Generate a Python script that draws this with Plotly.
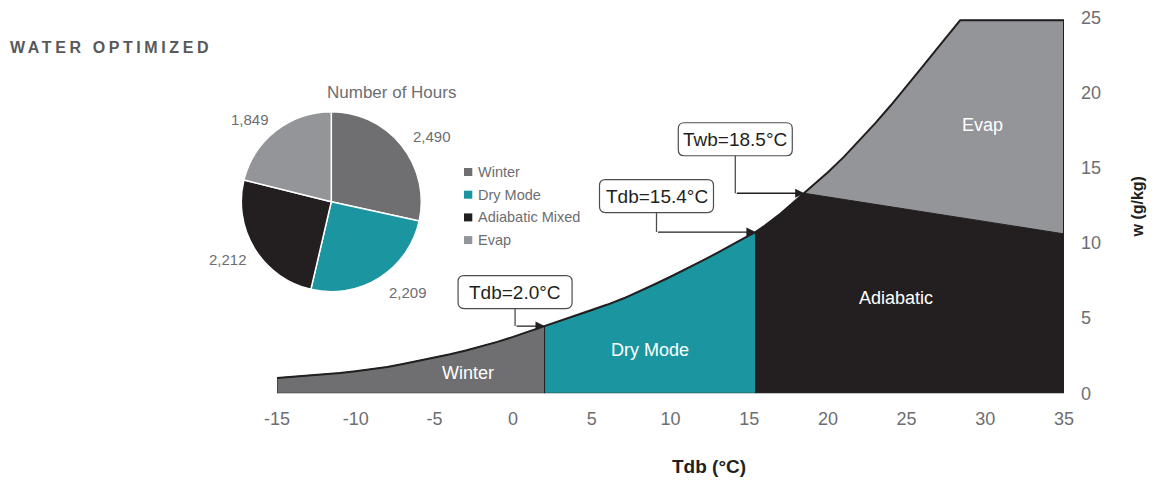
import numpy as np
import plotly.graph_objects as go

# ---------------- data ----------------
# saturation curve (Tdb in degC, w in g/kg)
tdb_sat = [-15, -14, -13, -12, -11, -10, -9, -8, -7, -6, -5, -4, -3, -2, -1, 0, 1, 2, 3, 4, 5, 6, 7, 8, 9,
           10, 11, 12, 13, 14, 15, 15.4, 16, 17, 18, 18.5, 19, 20, 21, 22, 23, 24, 25, 26, 27, 28, 28.4]
w_sat = [1.02, 1.1, 1.18, 1.26, 1.35, 1.47, 1.6, 1.75, 1.95, 2.15, 2.37, 2.6, 2.85, 3.12, 3.42, 3.75, 4.1,
         4.47, 4.8, 5.15, 5.5, 5.9, 6.3, 6.75, 7.25, 7.75, 8.25, 8.8, 9.35, 9.95, 10.5, 10.72, 11.15, 11.95,
         12.85, 13.3, 13.75, 14.7, 15.7, 16.8, 17.95, 19.15, 20.4, 21.7, 23.0, 24.3, 24.8]
t_max = 35
w_top = 24.8
winter_limit = 2.0      # Tdb=2.0
dry_limit = 15.4        # Tdb=15.4
twb_limit = 18.5        # Twb=18.5
evap_line_end_w = 10.6  # w of Evap lower boundary at t_max

mode_names = ["Winter", "Dry Mode", "Adiabatic Mixed", "Evap"]
region_names = ["Winter", "Dry Mode", "Adiabatic", "Evap"]
hours = [2490, 2209, 2212, 1849]
colors = ["#6f6f71", "#1b96a0", "#231f20", "#939598"]

callouts = ["Tdb=2.0°C", "Tdb=15.4°C", "Twb=18.5°C"]
callout_t = [winter_limit, dry_limit, twb_limit]

x_ticks = [-15, -10, -5, 0, 5, 10, 15, 20, 25, 30, 35]
y_ticks = [0, 5, 10, 15, 20, 25]

# ---------------- layout geometry ----------------
# the page body has an 8px margin, so figure pixels = page pixels - 8
OFF = 8
W, H = 1155 - OFF, 480 - OFF
PX_L, PX_R, PX_T, PX_B = 277 - OFF, 1064 - OFF, 17.3 - OFF, 393.3 - OFF
X_RANGE = [-15, 35]
Y_RANGE = [0, 25]
FONT = "Liberation Sans, Arial, Helvetica, sans-serif"
GREY = "#6d6e71"
DARK = "#231f20"


def px_paper(px, py):
    """page pixel -> paper fraction"""
    return (px - OFF) / W, 1 - (py - OFF) / H


def dx(pix):
    return pix * (X_RANGE[1] - X_RANGE[0]) / (PX_R - PX_L)


def dy(pix):
    return pix * (Y_RANGE[1] - Y_RANGE[0]) / (PX_B - PX_T)


T = np.array(tdb_sat, dtype=float)
Wv = np.array(w_sat, dtype=float)


def seg(t0, t1):
    m = (T >= t0 - 1e-9) & (T <= t1 + 1e-9)
    return list(T[m]), list(Wv[m])


w_at = lambda t: float(np.interp(t, T, Wv))

polys = []
# Winter
xs, ys = seg(-15, winter_limit)
polys.append((xs + [winter_limit, -15, xs[0]], ys + [0, 0, ys[0]]))
# Dry mode
xs, ys = seg(winter_limit, dry_limit)
polys.append((xs + [dry_limit, winter_limit, xs[0]], ys + [0, 0, ys[0]]))
# Adiabatic
xs, ys = seg(dry_limit, twb_limit)
polys.append((xs + [t_max, t_max, dry_limit, xs[0]], ys + [evap_line_end_w, 0, 0, ys[0]]))
# Evap
xs, ys = seg(twb_limit, max(tdb_sat))
polys.append((xs + [t_max, t_max, xs[0]], ys + [w_top, evap_line_end_w, ys[0]]))

fig = go.Figure()
for (px_, py_), c in zip(polys, colors):
    fig.add_trace(go.Scatter(x=px_, y=py_, mode="lines", fill="toself", fillcolor=c,
                             line=dict(color=DARK, width=1), cliponaxis=False,
                             hoverinfo="skip", showlegend=False))
# saturation curve + top edge
fig.add_trace(go.Scatter(x=tdb_sat + [t_max, t_max], y=w_sat + [w_top, evap_line_end_w], mode="lines",
                         line=dict(color=DARK, width=2), cliponaxis=False,
                         hoverinfo="skip", showlegend=False))

# pie (page pixel centre / radius)
pcx, pcy, pr = 331.3, 201.7, 90
fig.add_trace(go.Pie(values=hours, labels=mode_names, sort=False, direction="clockwise", rotation=0,
                     marker=dict(colors=colors, line=dict(color="white", width=1.5)),
                     textinfo="none", hoverinfo="label+value", showlegend=False,
                     domain=dict(x=[(pcx - pr - OFF) / W, (pcx + pr - OFF) / W],
                                 y=[1 - (pcy + pr - OFF) / H, 1 - (pcy - pr - OFF) / H])))

annotations = []
shapes = []


def text_at(px, py, text, size, color, anchor="center", **kw):
    x0, y0 = px_paper(px, py)
    annotations.append(dict(xref="paper", yref="paper", x=x0, y=y0, xanchor=anchor, yanchor="middle",
                            text=text, showarrow=False, font=dict(family=FONT, size=size, color=color,
                                                                  **kw.pop("fontkw", {})), **kw))


# title
text_at(8, 47.5, "<span style='letter-spacing:3.6px'>WATER OPTIMIZED</span>", 16, "#58595b",
        anchor="left", fontkw=dict(weight="bold"))
# pie title
text_at(391, 92.5, "Number of Hours", 17, GREY)
# pie value labels
lab_pos = [(432, 136.7), (408, 292.5), (228, 259), (250, 119)]
for v, (lx, ly) in zip(hours, lab_pos):
    text_at(lx, ly, f"{v:,}", 15, GREY)
# legend
for i, (name, c) in enumerate(zip(mode_names, colors)):
    cy = 172 + i * 22.7
    shapes.append(dict(type="rect", xref="paper", yref="paper",
                       x0=(464 - OFF) / W, x1=(472.3 - OFF) / W,
                       y0=1 - (cy + 4 - OFF) / H, y1=1 - (cy - 4 - OFF) / H,
                       fillcolor=c, line=dict(width=0)))
    text_at(475.5, cy, name, 14.5, GREY, anchor="left")

# region labels
reg_pos = [(468, 373), (650, 350), (896, 298), (982, 125)]
for name, (lx, ly) in zip(region_names, reg_pos):
    text_at(lx, ly, name, 18, "white")

# callouts (box offsets in pixels from the arrow tip)
box_off = [(-29.5, -34), (-99, -36), (-69, -54)]
bw, bh, rr = 114, 33, 6
for txt, t, (ox, oy) in zip(callouts, callout_t, box_off):
    tw = w_at(t)
    cxd = t + dx(ox)
    cyd = tw - dy(oy)
    hx, hy = dx(bw / 2), dy(bh / 2)
    rx, ry = dx(rr), dy(rr)
    l, r_, b, tp = cxd - hx, cxd + hx, cyd - hy, cyd + hy
    path = (f"M{l + rx},{tp} L{r_ - rx},{tp} Q{r_},{tp} {r_},{tp - ry} L{r_},{b + ry} "
            f"Q{r_},{b} {r_ - rx},{b} L{l + rx},{b} Q{l},{b} {l},{b + ry} L{l},{tp - ry} "
            f"Q{l},{tp} {l + rx},{tp} Z")
    shapes.append(dict(type="path", xref="x", yref="y", path=path, fillcolor="white",
                       line=dict(color="#4d4d4f", width=1.2), layer="above"))
    shapes.append(dict(type="line", xref="x", yref="y", x0=cxd, x1=cxd, y0=b, y1=tw,
                       line=dict(color="#4d4d4f", width=1.3), layer="above"))
    annotations.append(dict(xref="x", yref="y", x=t, y=tw, axref="x", ayref="y", ax=cxd, ay=tw,
                            text="", showarrow=True, arrowhead=2, arrowsize=1.4, arrowwidth=1.3,
                            arrowcolor="#231f20", standoff=0))
    annotations.append(dict(xref="x", yref="y", x=cxd, y=cyd, xanchor="center", yanchor="middle",
                            text=txt, showarrow=False, font=dict(family=FONT, size=19, color=DARK)))

# axis titles
text_at(709, 466.5, "Tdb (°C)", 19, DARK, fontkw=dict(weight="bold"))
text_at(1137, 207.5, "w (g/kg)", 16, DARK, textangle=-90, fontkw=dict(weight="bold"))

fig.update_layout(
    width=W, height=H, margin=dict(l=0, r=0, t=0, b=0, autoexpand=False),
    paper_bgcolor="white", plot_bgcolor="white",
    xaxis=dict(domain=[PX_L / W, PX_R / W], range=X_RANGE, tickvals=x_ticks,
               ticktext=[str(v) for v in x_ticks], ticks="", automargin=False,
               ticklabeloverflow="allow",
               showgrid=False, zeroline=False, showline=False, ticklabelstandoff=13,
               tickfont=dict(family=FONT, size=18, color=GREY), fixedrange=True),
    yaxis=dict(domain=[1 - PX_B / H, 1 - PX_T / H], range=Y_RANGE, tickvals=y_ticks,
               ticktext=[str(v) for v in y_ticks], ticks="", automargin=False,
               ticklabeloverflow="allow",
               side="right", showgrid=False, zeroline=False, showline=False, ticklabelstandoff=16,
               tickfont=dict(family=FONT, size=18, color=GREY), fixedrange=True),
    annotations=annotations, shapes=shapes, showlegend=False,
)

fig.write_html("out.html")
